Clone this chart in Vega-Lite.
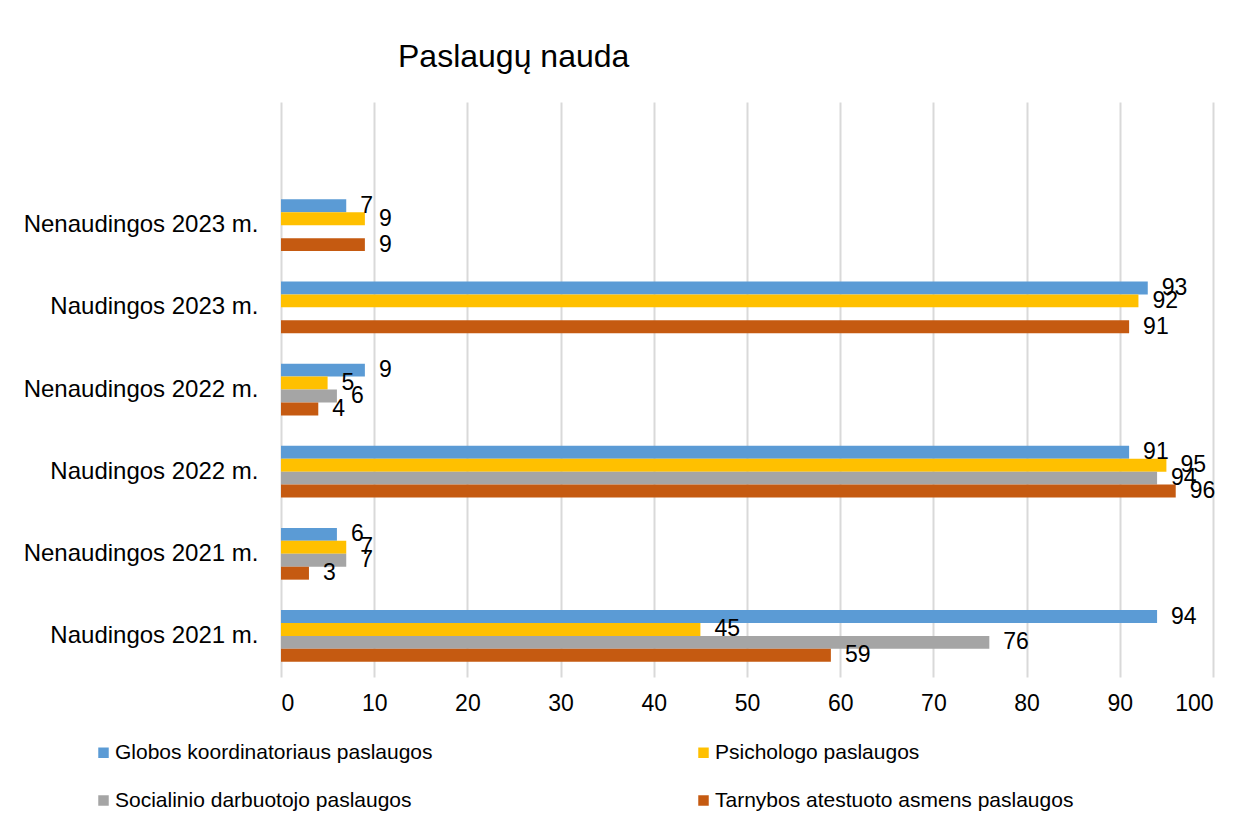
{
  "$schema": "https://vega.github.io/schema/vega-lite/v6.json",
  "width": 932,
  "height": 575,
  "autosize": {"type": "none"},
  "padding": {"left": 281, "top": 102, "right": 41, "bottom": 150},
  "background": "white",
  "config": {
    "font": "Liberation Sans",
    "view": {"stroke": null}
  },
  "title": {
    "text": "Paslaugų nauda",
    "anchor": "start",
    "frame": "group",
    "dx": 117,
    "offset": 28,
    "fontSize": 32,
    "fontWeight": "normal",
    "color": "#000000",
    "font": "Liberation Sans"
  },
  "data": {
    "values": [
      {"kategorija": "Nenaudingos 2023 m.", "paslauga": "Globos koordinatoriaus paslaugos", "procentai": 7},
      {"kategorija": "Nenaudingos 2023 m.", "paslauga": "Psichologo paslaugos", "procentai": 9},
      {"kategorija": "Nenaudingos 2023 m.", "paslauga": "Tarnybos atestuoto asmens paslaugos", "procentai": 9},
      {"kategorija": "Naudingos 2023 m.", "paslauga": "Globos koordinatoriaus paslaugos", "procentai": 93},
      {"kategorija": "Naudingos 2023 m.", "paslauga": "Psichologo paslaugos", "procentai": 92},
      {"kategorija": "Naudingos 2023 m.", "paslauga": "Tarnybos atestuoto asmens paslaugos", "procentai": 91},
      {"kategorija": "Nenaudingos 2022 m.", "paslauga": "Globos koordinatoriaus paslaugos", "procentai": 9},
      {"kategorija": "Nenaudingos 2022 m.", "paslauga": "Psichologo paslaugos", "procentai": 5},
      {"kategorija": "Nenaudingos 2022 m.", "paslauga": "Socialinio darbuotojo paslaugos", "procentai": 6},
      {"kategorija": "Nenaudingos 2022 m.", "paslauga": "Tarnybos atestuoto asmens paslaugos", "procentai": 4},
      {"kategorija": "Naudingos 2022 m.", "paslauga": "Globos koordinatoriaus paslaugos", "procentai": 91},
      {"kategorija": "Naudingos 2022 m.", "paslauga": "Psichologo paslaugos", "procentai": 95},
      {"kategorija": "Naudingos 2022 m.", "paslauga": "Socialinio darbuotojo paslaugos", "procentai": 94},
      {"kategorija": "Naudingos 2022 m.", "paslauga": "Tarnybos atestuoto asmens paslaugos", "procentai": 96},
      {"kategorija": "Nenaudingos 2021 m.", "paslauga": "Globos koordinatoriaus paslaugos", "procentai": 6},
      {"kategorija": "Nenaudingos 2021 m.", "paslauga": "Psichologo paslaugos", "procentai": 7},
      {"kategorija": "Nenaudingos 2021 m.", "paslauga": "Socialinio darbuotojo paslaugos", "procentai": 7},
      {"kategorija": "Nenaudingos 2021 m.", "paslauga": "Tarnybos atestuoto asmens paslaugos", "procentai": 3},
      {"kategorija": "Naudingos 2021 m.", "paslauga": "Globos koordinatoriaus paslaugos", "procentai": 94},
      {"kategorija": "Naudingos 2021 m.", "paslauga": "Psichologo paslaugos", "procentai": 45},
      {"kategorija": "Naudingos 2021 m.", "paslauga": "Socialinio darbuotojo paslaugos", "procentai": 76},
      {"kategorija": "Naudingos 2021 m.", "paslauga": "Tarnybos atestuoto asmens paslaugos", "procentai": 59}
    ]
  },
  "encoding": {
    "y": {
      "field": "kategorija",
      "type": "nominal",
      "title": null,
      "scale": {
        "domain": ["", "Nenaudingos 2023 m.", "Naudingos 2023 m.", "Nenaudingos 2022 m.", "Naudingos 2022 m.", "Nenaudingos 2021 m.", "Naudingos 2021 m."],
        "paddingInner": 0.37,
        "paddingOuter": 0.185
      },
      "axis": {
        "ticks": false,
        "domain": false,
        "grid": false,
        "labelFontSize": 24,
        "labelColor": "#000000",
        "labelPadding": 23,
        "labelLimit": 400
      }
    },
    "yOffset": {
      "field": "paslauga",
      "type": "nominal",
      "scale": {
        "domain": ["Globos koordinatoriaus paslaugos", "Psichologo paslaugos", "Socialinio darbuotojo paslaugos", "Tarnybos atestuoto asmens paslaugos"],
        "paddingInner": 0,
        "paddingOuter": 0
      }
    },
    "x": {
      "field": "procentai",
      "type": "quantitative",
      "title": null,
      "scale": {"domain": [0, 100], "nice": false},
      "axis": {
        "values": [0, 10, 20, 30, 40, 50, 60, 70, 80, 90, 100],
        "grid": true,
        "gridColor": "#d9d9d9",
        "gridWidth": 2,
        "domain": false,
        "ticks": false,
        "labelFontSize": 23,
        "labelColor": "#000000",
        "labelPadding": 15
      }
    }
  },
  "layer": [
    {
      "mark": {"type": "bar"},
      "encoding": {
        "color": {
          "field": "paslauga",
          "type": "nominal",
          "title": null,
          "scale": {
            "domain": ["Globos koordinatoriaus paslaugos", "Psichologo paslaugos", "Socialinio darbuotojo paslaugos", "Tarnybos atestuoto asmens paslaugos"],
            "range": ["#5B9BD5", "#FFC000", "#A5A5A5", "#C55A11"]
          },
          "legend": {
            "orient": "none",
            "direction": "horizontal",
            "legendX": -188,
            "legendY": 640,
            "columns": 2,
            "columnPadding": 260,
            "rowPadding": 26,
            "symbolType": "square",
            "symbolSize": 110,
            "symbolStrokeWidth": 0,
            "symbolOffset": 0,
            "labelOffset": 1,
            "labelFontSize": 21,
            "labelColor": "#000000",
            "labelLimit": 500
          }
        }
      }
    },
    {
      "mark": {"type": "text", "align": "left", "baseline": "middle", "dx": 14, "fontSize": 23, "color": "#000000"},
      "encoding": {
        "text": {"field": "procentai", "type": "quantitative"}
      }
    }
  ]
}
